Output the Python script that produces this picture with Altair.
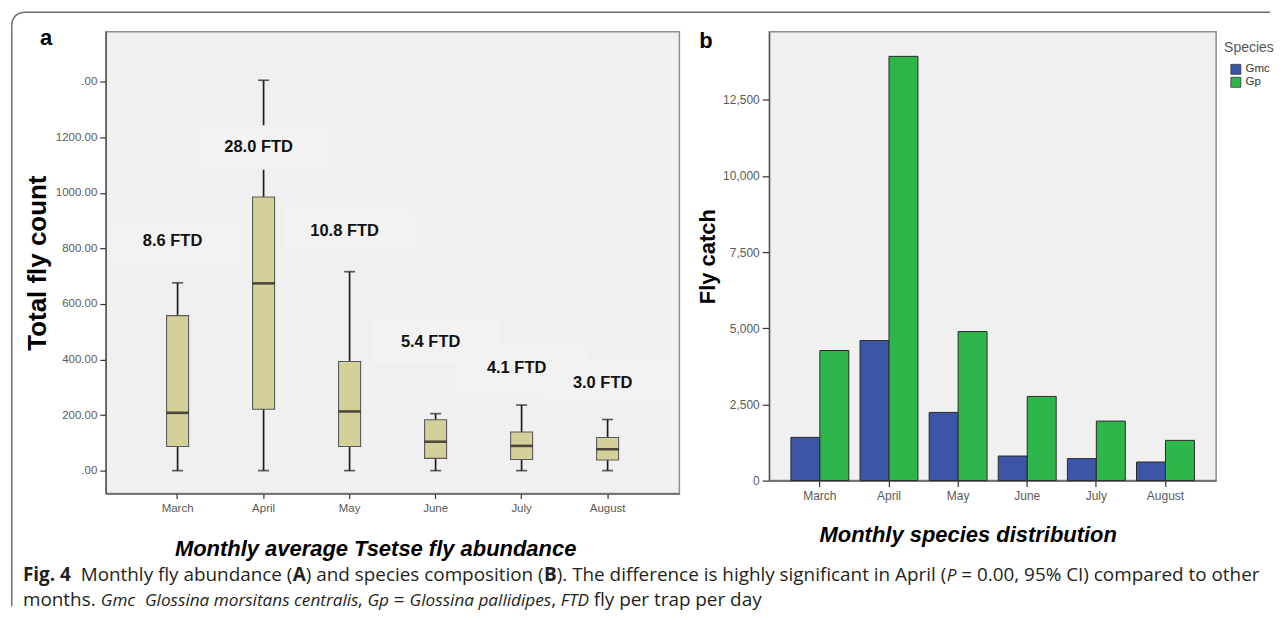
import glob
import altair as alt
import pandas as pd

# ---------------- data ----------------
months = ["March", "April", "May", "June", "July", "August"]

# panel a: box plot statistics (total fly count)
box_low = [0, 0, 0, 0, 0, 0]
box_q1 = [87, 221, 87, 44, 40, 38]
box_median = [208, 674, 213, 104, 89, 77]
box_q3 = [558, 985, 393, 183, 139, 119]
box_high = [676, 1405, 716, 205, 236, 184]
ftd_labels = ["8.6 FTD", "28.0 FTD", "10.8 FTD", "5.4 FTD", "4.1 FTD", "3.0 FTD"]
ftd_label_y = [826, 1163, 862, 463, 370, 316]
a_ticks = [0, 200, 400, 600, 800, 1000, 1200, 1400]

# panel b: fly catch per species
species = ["Gmc", "Gp"]
gmc_catch = [1419, 4597, 2238, 806, 721, 610]
gp_catch = [4270, 13925, 4892, 2762, 1953, 1320]
b_ticks = [0, 2500, 5000, 7500, 10000, 12500]

caption_line1 = [
    ("Fig. 4", "bold"), ("  Monthly fly abundance (", "reg"), ("A", "bold"),
    (") and species composition (", "reg"), ("B", "bold"),
    ("). The difference is highly significant in April (", "reg"), ("P", "italic"),
    (" = 0.00, 95% CI) compared to other", "reg"),
]
caption_line2 = [
    ("months. ", "reg"), ("Gmc", "italic"), ("  ", "reg"),
    ("Glossina morsitans centralis", "italic"), (", ", "reg"), ("Gp", "italic"),
    (" = ", "reg"), ("Glossina pallidipes", "italic"), (", ", "reg"),
    ("FTD", "italic"), (" fly per trap per day", "reg"),
]

# ---------------- text measuring for caption ----------------
_W = {' ': 0.26, '.': 0.266, ',': 0.244, '(': 0.296, ')': 0.296, '=': 0.571, '%': 0.821,
      'a': 0.556, 'b': 0.613, 'c': 0.476, 'd': 0.613, 'e': 0.561, 'f': 0.339, 'g': 0.548,
      'h': 0.614, 'i': 0.253, 'j': 0.253, 'k': 0.525, 'l': 0.253, 'm': 0.93, 'n': 0.614,
      'o': 0.604, 'p': 0.613, 'q': 0.613, 'r': 0.408, 's': 0.477, 't': 0.353, 'u': 0.614,
      'v': 0.501, 'w': 0.778, 'x': 0.524, 'y': 0.502, 'z': 0.477, 'A': 0.633, 'B': 0.648,
      'C': 0.631, 'D': 0.729, 'F': 0.516, 'G': 0.728, 'I': 0.279, 'M': 0.903, 'P': 0.613,
      'T': 0.552}
for _d in "0123456789":
    _W[_d] = 0.571
_FACT = {"reg": 1.0, "bold": 1.08, "italic": 0.95}
_FILES = {"reg": "OpenSans-Regular.ttf", "bold": "OpenSans-Bold.ttf", "italic": "OpenSans-Italic.ttf"}
_fonts = {}
try:
    from PIL import ImageFont
    for k, fn in _FILES.items():
        hits = glob.glob("/usr/share/fonts/**/" + fn, recursive=True) + \
            glob.glob("/usr/local/share/fonts/**/" + fn, recursive=True)
        if hits:
            _fonts[k] = ImageFont.truetype(hits[0], 100)
except Exception:
    _fonts = {}

ITALIC_K = [1.0]


def measure(s, size, style):
    if style == "italic":
        size = size * ITALIC_K[0]
    if style in _fonts:
        try:
            return _fonts[style].getlength(s) * size / 100.0
        except Exception:
            pass
    return sum(_W.get(c, 0.55) for c in s) * size * _FACT[style]


def layout_line(segs, x0, size):
    out, x = [], x0
    for text, style in segs:
        stripped = text.lstrip(' ')
        lead = text[:len(text) - len(stripped)]
        if stripped.strip():
            out.append((stripped.rstrip(' '), style, x + measure(lead, size, style)))
        x += measure(text, size, style)
    return out


# ---------------- geometry (page coords -> panel a coords) ----------------
OX, OY = 105, 30          # panel a plot origin on page
W_A, H_A = 575, 463
W_B, H_B = 448, 450
FONT = "Liberation Sans"
CAP_FONT = "Open Sans"

cap_x0 = 22 - OX
line1_w = sum(measure(t, 100, s) for t, s in caption_line1)
cap_size = max(14.0, min(19.5, 1240 * 100.0 / line1_w))
# slightly narrower italic (the original italic face is condensed)
reg2 = sum(measure(t, cap_size, s) for t, s in caption_line2 if s != "italic")
ita2 = sum(measure(t, cap_size, s) for t, s in caption_line2 if s == "italic")
ITALIC_K[0] = max(0.91, min(1.0, (740 - reg2) / ita2))
ital_size = cap_size * ITALIC_K[0]

cap_segments = [(t, s, x, 581 - OY) for t, s, x in layout_line(caption_line1, cap_x0, cap_size)] + \
               [(t, s, x, 606 - OY) for t, s, x in layout_line(caption_line2, cap_x0, cap_size)]

dummy = pd.DataFrame({"d": [0]})

# ---------------- panel a ----------------
df_a = pd.DataFrame({"month": months, "low": box_low, "q1": box_q1, "median": box_median,
                     "q3": box_q3, "high": box_high, "label": ftd_labels, "label_y": ftd_label_y})

xa = alt.X("month:N", sort=months,
           scale=alt.Scale(paddingInner=0.744, paddingOuter=0.707),
           axis=alt.Axis(title="Monthly average Tsetse fly abundance", labelAngle=0,
                         labelFontSize=11.5, tickSize=5, labelPadding=4,
                         titleFontSize=22, titleFontStyle="italic", titleX=270, titleY=55,
                         titleAlign="center", titleBaseline="middle"))
ya_scale = alt.Scale(domain=[-82.6, 1580], nice=False, zero=False)
ya_axis = alt.Axis(title="Total fly count", values=a_ticks,
                   labelExpr="(datum.value == 0 || datum.value == 1400) ? '.00' : format(datum.value, '.2f')",
                   labelFontSize=11.5, tickSize=6, labelPadding=3,
                   titleFontSize=26, titleX=-68, titleY=H_A / 2, titleAngle=270,
                   titleAlign="center", titleBaseline="middle")


def ya(field):
    return alt.Y(f"{field}:Q", scale=ya_scale, axis=ya_axis)


base_a = alt.Chart(df_a)
whisker = base_a.mark_rule(color="#1e1e1e", strokeWidth=1.7).encode(x=xa, y=ya("low"), y2="high:Q")
cap_lo = base_a.mark_tick(color="#1e1e1e", size=11, thickness=1.7).encode(x=xa, y=ya("low"))
cap_hi = base_a.mark_tick(color="#1e1e1e", size=11, thickness=1.7).encode(x=xa, y=ya("high"))
box = base_a.mark_bar(color="#d4d09a", stroke="#5a5a5a", strokeWidth=1.1).encode(
    x=xa, y=ya("q1"), y2="q3:Q")
median = base_a.mark_tick(color="#111111", size=22, thickness=2.6).encode(x=xa, y=ya("median"))
label_box = base_a.transform_calculate(
    lo="datum.label_y - 80", hi="datum.label_y + 80"
).mark_bar(color="#f2f2f2", width=130).encode(x=xa, y=ya("lo"), y2="hi:Q")
label_txt = base_a.mark_text(font=FONT, fontSize=16.5, fontWeight="bold", color="#111111",
                             dx=-5, baseline="middle").encode(x=xa, y=ya("label_y"), text="label:N")

letter_a = alt.Chart(dummy).mark_text(font=FONT, fontSize=22, fontWeight="bold", align="left",
                                      baseline="alphabetic", color="#000").encode(
    x=alt.value(39 - OX), y=alt.value(43 - OY), text=alt.value("a"))

FR = "#6e6e6e"
fr_top = alt.Chart(dummy).mark_rule(color=FR, strokeWidth=1.5).encode(
    x=alt.value(22.5 - OX), x2=alt.value(1272 - OX), y=alt.value(10.5 - OY))
fr_left = alt.Chart(dummy).mark_rule(color=FR, strokeWidth=1.5).encode(
    x=alt.value(10.75 - OX), y=alt.value(22.5 - OY), y2=alt.value(606 - OY))
fr_arc = alt.Chart(dummy).mark_arc(color=FR, radius=12.5, radius2=11.0,
                                   theta=4.712389, theta2=6.283185).encode(
    x=alt.value(22.75 - OX), y=alt.value(22.5 - OY))

cap_layers = []
for t, s, x, y in cap_segments:
    kw = dict(font=CAP_FONT, fontSize=cap_size, align="left", baseline="alphabetic", color="#231f20")
    if s == "bold":
        kw["fontWeight"] = "bold"
    if s == "italic":
        kw["fontStyle"] = "italic"
        kw["fontSize"] = ital_size
    cap_layers.append(alt.Chart(dummy).mark_text(**kw).encode(
        x=alt.value(x), y=alt.value(y), text=alt.value(t)))

# ---------------- panel b ----------------
df_b = pd.DataFrame({"month": months * 2,
                     "species": [species[0]] * 6 + [species[1]] * 6,
                     "catch": gmc_catch + gp_catch})

bars = alt.Chart(df_b).mark_bar(stroke="#2a2a2a", strokeWidth=1).encode(
    x=alt.X("month:N", sort=months,
            scale=alt.Scale(paddingInner=0.162, paddingOuter=0.314),
            axis=alt.Axis(title="Monthly species distribution", labelAngle=0, labelFontSize=12,
                          tickSize=6, labelPadding=4, titleFontSize=22, titleFontStyle="italic",
                          titleX=199, titleY=54.5, titleAlign="center", titleBaseline="middle")),
    xOffset=alt.XOffset("species:N", sort=species,
                        scale=alt.Scale(paddingInner=0, paddingOuter=0)),
    y=alt.Y("catch:Q", scale=alt.Scale(domain=[0, 14736], nice=False),
            axis=alt.Axis(title="Fly catch", values=b_ticks, format=",.0f", labelFontSize=12,
                          tickSize=7, labelPadding=3, titleFontSize=22, titleX=-62,
                          titleY=H_B / 2, titleAngle=270, titleAlign="center",
                          titleBaseline="middle")),
    color=alt.Color("species:N", sort=species,
                    scale=alt.Scale(domain=species, range=["#3c55a6", "#2fb64b"]),
                    legend=alt.Legend(title="Species", orient="none",
                                      legendX=1226 - OX, legendY=9,
                                      titleFont=FONT, titleFontSize=14, titleFontWeight="normal",
                                      titleColor="#555", titlePadding=9, labelFont=FONT,
                                      labelFontSize=11.5, labelColor="#333", symbolType="square",
                                      symbolSize=100, symbolStrokeColor="#333",
                                      symbolStrokeWidth=0.8, symbolOffset=6, rowPadding=-1,
                                      padding=0, labelOffset=4)),
)

letter_b = alt.Chart(dummy).mark_text(font=FONT, fontSize=22, fontWeight="bold", align="left",
                                      baseline="alphabetic", color="#000").encode(
    x=alt.value(700 - 770), y=alt.value(47 - 30.7), text=alt.value("b"))

panel_a = alt.layer(whisker, cap_lo, cap_hi, box, median, label_box, label_txt,
                    letter_a, fr_top, fr_left, fr_arc, *cap_layers).properties(width=W_A, height=H_A)
panel_b = alt.layer(bars, letter_b).properties(width=W_B, height=H_B)

# ---------------- compose ----------------
chart = alt.hconcat(panel_a, panel_b, spacing=90, bounds="flush").properties(
    padding={"left": 2, "top": 2, "right": 0, "bottom": 0},
    background="white",
).configure_view(
    stroke="#8e8e8e", strokeWidth=1.5, fill="#f0f0f0"
).configure_axis(
    labelFont=FONT, labelColor="#5a5a5a", tickColor="#333333", tickWidth=1.2,
    domainColor="#555555", domainWidth=1.3, grid=False,
    titleFont=FONT, titleColor="#000000", titleFontWeight="bold",
)

chart.save("out.html", embed_options={"renderer": "svg", "actions": False})
